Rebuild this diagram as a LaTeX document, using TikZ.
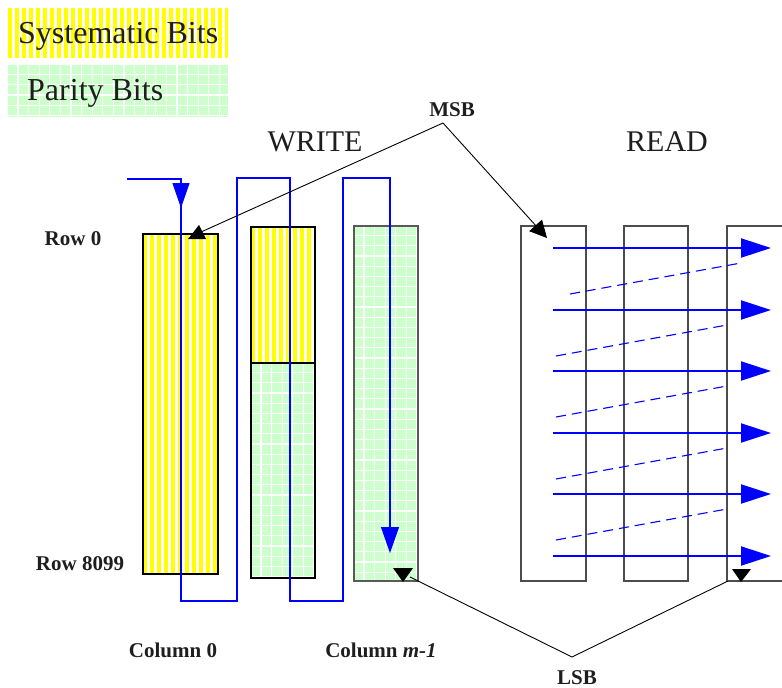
\documentclass[tikz,border=0pt]{standalone}
\usepackage{fontspec}
\setmainfont{Liberation Serif}
\usetikzlibrary{arrows.meta}
\definecolor{sysy}{RGB}{255,255,0}
\definecolor{parg}{RGB}{204,255,204}
\definecolor{wblue}{RGB}{0,0,255}
\definecolor{txt}{RGB}{30,30,30}
% striped (systematic) and gridded (parity) fills, corners x1,y1,x2,y2
\newcommand\mystripes[4]{%
  \begin{scope}
    \clip (#1,#2) rectangle (#3,#4);
    \fill[sysy] (#1,#2) rectangle (#3,#4);
    \foreach \i in {0,...,45}{\fill[white] ({#1+4.3+7*\i},#2) rectangle ({#1+7+7*\i},#4);}
  \end{scope}}
\newcommand\mygrid[4]{%
  \begin{scope}
    \clip (#1,#2) rectangle (#3,#4);
    \fill[parg] (#1,#2) rectangle (#3,#4);
    \foreach \i in {0,...,30}{\fill[white] ({#1+9.4+10.6*\i},#2) rectangle ({#1+10.6+10.6*\i},#4);}
    \foreach \j in {0,...,40}{\fill[white] (#1,{#2+9+10.2*\j}) rectangle (#3,{#2+10.2+10.2*\j});}
  \end{scope}}
\begin{document}
\begin{tikzpicture}[x=1pt,y=-1pt,
  box/.style={inner sep=0pt, outer sep=0pt, anchor=north west},
  colborder/.style={box, draw=black, line width=1.1pt},
  grayborder/.style={box, draw=black!65, line width=1.4pt},
  readcol/.style={box, draw=black!70, line width=1.3pt},
  wline/.style={draw=wblue, line width=1.2pt},
  whead/.style={wblue, line width=1.2pt, -{Triangle[length=25pt,width=17pt]}},
  rarrow/.style={draw=wblue, line width=2pt, -{Triangle[length=30pt,width=19pt]}},
  dline/.style={draw=wblue, line width=1.1pt, dash pattern=on 10pt off 6pt},
  bline/.style={draw=black, line width=0.9pt},
  lab/.style={inner sep=0pt, anchor=base, text=txt, font=\fontsize{21}{24}\selectfont\bfseries},
  big/.style={inner sep=0pt, text=txt, font=\fontsize{30}{34}\selectfont},
  leg/.style={inner sep=0pt, anchor=base west, text=txt, font=\fontsize{32}{36}\selectfont}
]
\useasboundingbox (0,0) rectangle (782,688);
\clip (0,0) rectangle (782,688);

% legend
\mystripes{8}{8}{228}{58}
\mygrid{8}{65}{228}{117}
\node[box, minimum width=220pt, minimum height=50pt] (sysleg) at (8,8) {};
\node[box, minimum width=220pt, minimum height=52pt] (parleg) at (8,65) {};
\node[leg] (systxt) at (18,43) {Systematic Bits};
\node[leg] (partxt) at (27,100) {Parity Bits};

% titles
\node[big, anchor=base] (write) at (315,151) {WRITE};
\node[big, anchor=base] (read) at (667,151) {READ};

% write columns
\mystripes{143}{234}{218}{574}
\mystripes{251}{227}{315}{363}
\mygrid{251}{363}{315}{578}
\mygrid{354}{226}{418}{581}
\node[colborder, minimum width=75pt, minimum height=340pt] (col0) at (143,234) {};
\node[colborder, minimum width=64pt, minimum height=136pt] (col1a) at (251,227) {};
\node[colborder, minimum width=64pt, minimum height=215pt] (col1b) at (251,363) {};
\node[grayborder, minimum width=64pt, minimum height=355pt] (colm) at (354,226) {};

% read columns
\node[readcol, minimum width=65pt, minimum height=355pt] (rA) at (521,226) {};
\node[readcol, minimum width=64pt, minimum height=355pt] (rB) at (624,226) {};
\node[readcol, minimum width=90pt, minimum height=355pt] (rC) at (727,226) {};

% write path
\coordinate (wstart) at (127,179);
\coordinate (wend) at (390,553);
\draw[wline, -{Triangle[length=26pt,width=18pt]}] (wstart) -- (181,179) -- (181,601) -- (237,601) -- (237,178) -- (290,178) -- (290,601) -- (343,601) -- (343,178) -- (390,178) -- (wend);
\draw[whead] (181,183) -- (181,208);

% read arrows
\foreach \y in {248,310,371,433,494,556}{
  \draw[rarrow] (553,\y) -- (771,\y);
}
\draw[dline] (570,294) -- (741,263);
\draw[dline] (556,356) -- (727,325);
\draw[dline] (556,417) -- (727,386);
\draw[dline] (556,479) -- (727,448);
\draw[dline] (556,540) -- (727,509);

% labels
\node[lab] (row0) at (73,245) {Row 0};
\node[lab] (row8099) at (80,570) {Row 8099};
\node[lab] (c0) at (173,657) {Column 0};
\node[lab] (cm) at (381,657) {Column \textit{m-1}};
\node[lab] (msb) at (452,116) {MSB};
\node[lab] (lsb) at (577,684) {LSB};

% MSB / LSB pointers
\coordinate (msbapex) at (443,123);
\coordinate (lsbapex) at (572,657);
\draw[bline, -{Triangle[length=17pt,width=17pt]}] (msbapex) -- (547,238);
\draw[bline] (msbapex) -- (201,232);
\fill[black] (188,239) -- (206,239) -- (199,225) -- cycle;
\draw[bline] (lsbapex) -- (410,577);
\fill[black] (393,568) -- (413,568) -- (403,582) -- cycle;
\draw[bline] (lsbapex) -- (728,581);
\fill[black] (732,569) -- (751,569) -- (741,582) -- cycle;
\end{tikzpicture}
\end{document}
